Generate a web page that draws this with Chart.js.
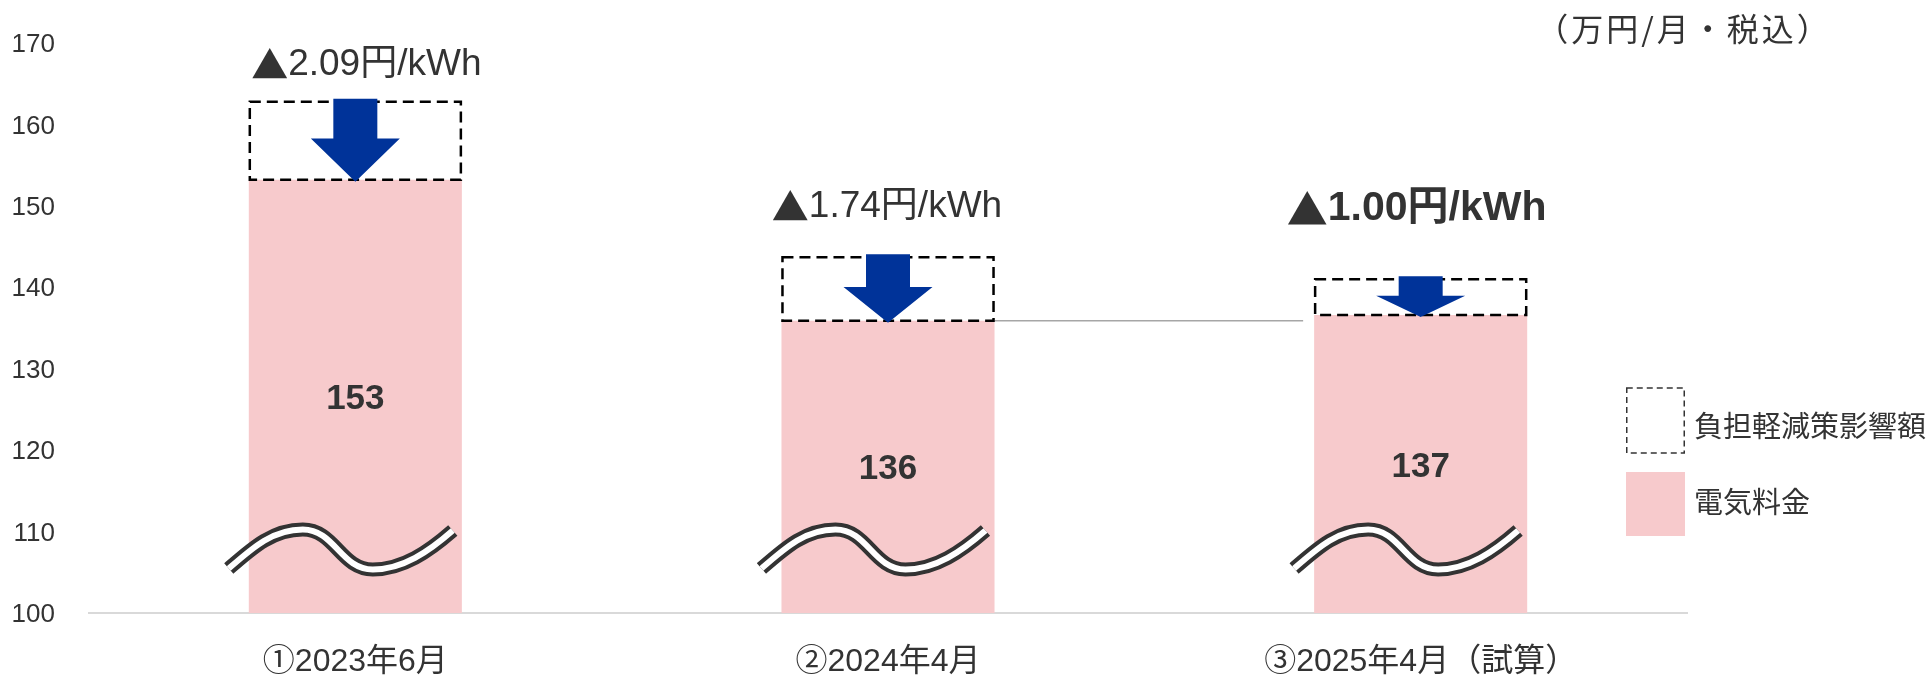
<!DOCTYPE html>
<html>
<head>
<meta charset="utf-8">
<script src="https://cdn.jsdelivr.net/npm/chart.js@4.4.1/dist/chart.umd.min.js"></script>
<style>
html,body{margin:0;padding:0;background:#ffffff;}
#wrap{width:1931px;height:675px;position:relative;}
</style>
</head>
<body>
<div id="wrap"><canvas id="c" width="1931" height="675"></canvas></div>
<script>
// ---- data ----
const categories = ['①2023年6月', '②2024年4月', '③2025年4月（試算）'];
const electricityBill = [153.2, 135.9, 136.6];      // 電気料金 (万円/月)
const reliefImpact = [9.6, 7.8, 4.4];               // 負担軽減策影響額 (万円/月)
const reliefLabels = ['▲2.09円/kWh', '▲1.74円/kWh', '▲1.00円/kWh'];
const seriesNames = ['電気料金', '負担軽減策影響額'];
const yTickValues = [100, 110, 120, 130, 140, 150, 160, 170];
const unitLabel = '（万円/月・税込）';
const axisBreakValue = 107.8;

// ---- styles ----
const PINK = '#F7CACC';
const BLUE = '#003399';
const TEXT = '#333333';
const LATIN = '"Liberation Sans", Arial, "Noto Sans CJK JP", sans-serif';
const CJK = '"Noto Sans CJK JP", "Liberation Sans", sans-serif';

function drawAnnotation(ctx, text, cx, cy, size, bold) {
  const w = bold ? 'bold ' : '';
  let head = '', rest = text;
  if (text.charAt(0) === '▲') { head = '▲'; rest = text.slice(1); }
  ctx.textBaseline = 'middle';
  ctx.textAlign = 'left';
  ctx.font = w + size + 'px ' + CJK;
  const hw = head ? ctx.measureText(head).width : 0;
  ctx.font = w + size + 'px ' + LATIN;
  const rw = ctx.measureText(rest).width;
  const x0 = cx - (hw + rw) / 2;
  if (head) {
    ctx.font = w + size + 'px ' + CJK;
    ctx.fillText(head, x0, cy);
  }
  ctx.font = w + size + 'px ' + LATIN;
  ctx.fillText(rest, x0 + hw, cy);
}

const overlay = {
  id: 'overlay',
  beforeDatasetsDraw(chart) {
    const ctx = chart.ctx;
    const m = chart.getDatasetMeta(0).data;
    if (m.length < 3) return;
    const a = m[1], b = m[2];
    ctx.save();
    ctx.strokeStyle = '#A6A6A6';
    ctx.lineWidth = 1.5;
    ctx.beginPath();
    ctx.moveTo(a.x + a.width / 2, a.y);
    ctx.lineTo(b.x - b.width / 2 - 11, a.y);
    ctx.stroke();
    ctx.restore();
  },
  afterDatasetsDraw(chart) {
    const ctx = chart.ctx;
    const ys = chart.scales.y;
    const ca = chart.chartArea;
    const metaE = chart.getDatasetMeta(0).data;
    const metaR = chart.getDatasetMeta(1).data;
    const textDx = [11, -1, -4];
    const textDy = [37, 50, 70];
    metaE.forEach((bar, i) => {
      const r = metaR[i];
      const left = bar.x - bar.width / 2;
      const right = bar.x + bar.width / 2;
      const topE = bar.y;
      const topR = r.y;

      // dashed box for relief impact
      ctx.save();
      ctx.setLineDash([11, 6]);
      ctx.lineWidth = 2.5;
      ctx.strokeStyle = '#000000';
      ctx.strokeRect(left + 1, topR, right - left - 2, topE - topR);
      ctx.restore();

      // axis break wave
      const cy = ys.getPixelForValue(axisBreakValue);
      const x0 = left;
      const A = 20;
      ctx.save();
      ctx.lineCap = 'butt';
      ctx.beginPath();
      ctx.moveTo(x0 - 20, cy + 19);
      ctx.bezierCurveTo(x0 + 4, cy - 2, x0 + 24, cy - A, x0 + 54, cy - A);
      ctx.bezierCurveTo(x0 + 86, cy - A, x0 + 92, cy + A, x0 + 124, cy + A);
      ctx.bezierCurveTo(x0 + 154, cy + A, x0 + 180, cy + 2, x0 + 204, cy - 19);
      ctx.strokeStyle = '#333333';
      ctx.lineWidth = 14;
      ctx.stroke();
      ctx.strokeStyle = '#ffffff';
      ctx.lineWidth = 6;
      ctx.stroke();
      ctx.restore();

      // arrow
      const aTop = topR - 3;
      const aTip = topE + 2;
      const headLen = (aTip - aTop) * 0.52;
      const cx = bar.x;
      ctx.save();
      ctx.fillStyle = BLUE;
      ctx.beginPath();
      ctx.moveTo(cx - 22, aTop);
      ctx.lineTo(cx + 22, aTop);
      ctx.lineTo(cx + 22, aTip - headLen);
      ctx.lineTo(cx + 44.5, aTip - headLen);
      ctx.lineTo(cx, aTip);
      ctx.lineTo(cx - 44.5, aTip - headLen);
      ctx.lineTo(cx - 22, aTip - headLen);
      ctx.closePath();
      ctx.fill();
      ctx.restore();

      // value label in bar
      ctx.save();
      ctx.fillStyle = TEXT;
      ctx.font = 'bold 35px ' + LATIN;
      ctx.textAlign = 'center';
      ctx.textBaseline = 'middle';
      ctx.fillText(String(Math.round(electricityBill[i])), bar.x, (topE + ca.bottom) / 2 + 3);
      ctx.restore();

      // relief annotation
      const last = i === reliefLabels.length - 1;
      ctx.save();
      ctx.fillStyle = TEXT;
      drawAnnotation(ctx, reliefLabels[i], bar.x + textDx[i], topR - textDy[i], last ? 41 : 37, last);
      ctx.restore();
    });
  },
  afterDraw(chart) {
    const ctx = chart.ctx;
    ctx.save();
    // unit label
    ctx.fillStyle = TEXT;
    ctx.font = '32px ' + CJK;
    try { ctx.letterSpacing = '3px'; } catch (e) {}
    ctx.textAlign = 'center';
    ctx.textBaseline = 'middle';
    ctx.fillText(unitLabel, 1684, 29);
    try { ctx.letterSpacing = '0px'; } catch (e) {}

    // legend
    const bx = 1626, bw = 59;
    ctx.setLineDash([6, 4]);
    ctx.lineWidth = 1.5;
    ctx.strokeStyle = '#333333';
    ctx.strokeRect(bx + 0.75, 388, bw - 1.5, 65);
    ctx.setLineDash([]);
    ctx.fillStyle = PINK;
    ctx.fillRect(bx, 472, bw, 64);
    ctx.fillStyle = TEXT;
    ctx.font = '29px ' + CJK;
    ctx.textAlign = 'left';
    ctx.fillText(chart.data.datasets[1].label, 1694, 426);
    ctx.fillText(chart.data.datasets[0].label, 1694, 502);
    ctx.restore();
  }
};

new Chart(document.getElementById('c'), {
  type: 'bar',
  data: {
    labels: categories,
    datasets: [
      {
        label: seriesNames[0],
        data: electricityBill,
        backgroundColor: PINK,
        borderWidth: 0,
        categoryPercentage: 1,
        barPercentage: 0.4
      },
      {
        label: seriesNames[1],
        data: reliefImpact,
        backgroundColor: 'rgba(255,255,255,0)',
        borderWidth: 0,
        categoryPercentage: 1,
        barPercentage: 0.4
      }
    ]
  },
  options: {
    responsive: false,
    animation: false,
    layout: { padding: { left: 0, right: 244, top: 43, bottom: 0 } },
    plugins: {
      legend: { display: false },
      tooltip: { enabled: false }
    },
    scales: {
      x: {
        stacked: true,
        grid: { display: false, drawTicks: false },
        border: { display: true, color: '#D9D9D9', width: 2 },
        ticks: {
          color: TEXT,
          padding: 30,
          font: { family: LATIN, size: 32 },
          maxRotation: 0,
          autoSkip: false
        },
        afterFit(scale) { scale.height = 62; }
      },
      y: {
        stacked: true,
        min: yTickValues[0],
        max: yTickValues[yTickValues.length - 1],
        grid: { display: false, drawTicks: false },
        border: { display: false },
        afterBuildTicks(scale) { scale.ticks = yTickValues.map(v => ({ value: v })); },
        ticks: {
          color: TEXT,
          padding: 34,
          labelOffset: 2,
          font: { family: LATIN, size: 26 }
        },
        afterFit(scale) {
          scale.width = 89;
          scale.paddingTop = 16;
          scale.paddingBottom = 16;
        }
      }
    }
  },
  plugins: [overlay]
});
</script>
</body>
</html>
